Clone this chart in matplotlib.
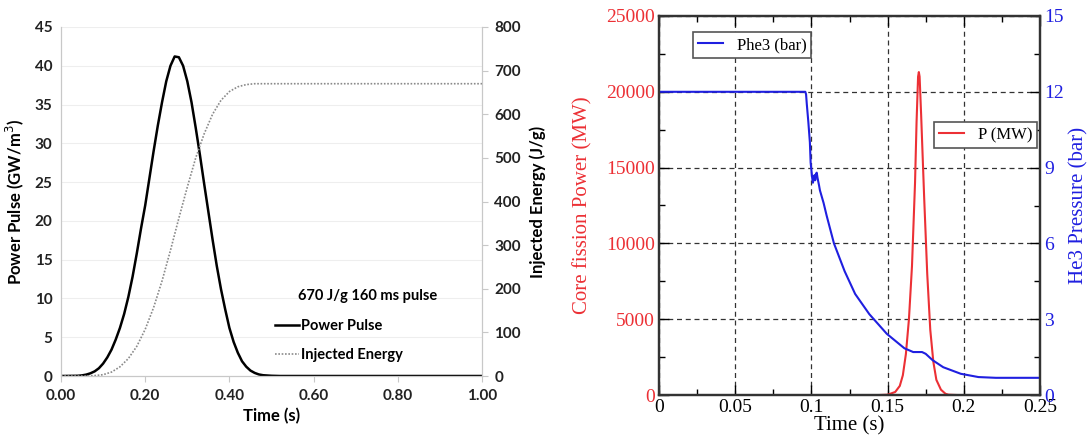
import matplotlib
matplotlib.use("Agg")
import matplotlib.pyplot as plt
from matplotlib.ticker import FormatStrFormatter, FixedLocator
from matplotlib.lines import Line2D

# ---------------- Left panel data ----------------
t_pulse = [0.00, 0.04, 0.05, 0.06, 0.07, 0.08, 0.09, 0.10, 0.11, 0.12, 0.13, 0.14, 0.15,
           0.16, 0.17, 0.18, 0.19, 0.20, 0.21, 0.22, 0.23, 0.24, 0.25, 0.26, 0.27,
           0.28, 0.29, 0.30, 0.31, 0.32, 0.33, 0.34, 0.35, 0.36, 0.37, 0.38, 0.39,
           0.40, 0.41, 0.42, 0.43, 0.44, 0.45, 0.46, 0.47, 0.48, 0.50, 0.52, 1.00]
power_pulse = [0.0, 0.03, 0.08, 0.18, 0.35, 0.6, 1.0, 1.6, 2.4, 3.4, 4.7, 6.2, 8.0,
               10.2, 12.8, 15.8, 19.0, 22.0, 25.5, 29.0, 32.3, 35.3, 38.0, 40.0, 41.2,
               41.1, 40.0, 38.0, 35.3, 32.0, 28.5, 24.8, 21.2, 17.6, 14.2, 11.2, 8.6,
               6.2, 4.4, 3.0, 1.9, 1.2, 0.7, 0.4, 0.2, 0.1, 0.03, 0.0, 0.0]

t_energy = [0.00, 0.06, 0.08, 0.10, 0.12, 0.14, 0.16, 0.18, 0.20, 0.22, 0.24, 0.26,
            0.28, 0.30, 0.32, 0.34, 0.36, 0.38, 0.40, 0.42, 0.44, 0.46, 0.50, 1.00]
injected_energy = [0, 0, 1, 3, 9, 21, 40, 68, 107, 157, 218, 288,
                   362, 433, 500, 555, 600, 632, 652, 663, 668, 670, 670, 670]

left_xticks = [0.0, 0.2, 0.4, 0.6, 0.8, 1.0]
left_yticks = list(range(0, 46, 5))
right_yticks = list(range(0, 801, 100))

# ---------------- Right panel data ----------------
t_phe3 = [0.000, 0.096, 0.0965, 0.097, 0.098, 0.099, 0.0995, 0.1005, 0.101, 0.102,
          0.1025, 0.103, 0.1035, 0.104, 0.105, 0.1056, 0.108, 0.110, 0.1148, 0.1218,
          0.1287, 0.1380, 0.1495, 0.161, 0.1668, 0.1726, 0.175, 0.1795, 0.1865,
          0.198, 0.2096, 0.221, 0.250]
phe3_bar = [12.0, 12.0, 11.9, 11.5, 10.8, 10.0, 9.2, 8.6, 8.4, 8.7,
            8.5, 8.75, 8.8, 8.6, 8.3, 8.1, 7.6, 7.1, 6.0, 4.9,
            4.0, 3.2, 2.42, 1.85, 1.70, 1.70, 1.63, 1.38, 1.10,
            0.84, 0.71, 0.68, 0.68]

t_p = [0.145, 0.150, 0.155, 0.158, 0.160, 0.162, 0.164, 0.166, 0.168, 0.169,
       0.170, 0.1705, 0.171, 0.172, 0.174, 0.176, 0.178, 0.180, 0.182, 0.185,
       0.188, 0.190, 0.195]
p_mw = [0, 20, 200, 600, 1300, 2700, 5000, 8500, 14000, 18000,
        21000, 21300, 21000, 18500, 13000, 8000, 4300, 2200, 1000, 350,
        80, 20, 0]

right_xticks = [0, 0.05, 0.1, 0.15, 0.2, 0.25]
right_xlabels = ["0", "0.05", "0.1", "0.15", "0.2", "0.25"]
p_ticks = [0, 5000, 10000, 15000, 20000, 25000]
phe3_ticks = [0, 3, 6, 9, 12, 15]

W, H = 1089, 437
fig = plt.figure(figsize=(W / 100, H / 100), dpi=100)


def box(x0, y0, x1, y1):
    return [x0 / W, 1 - y1 / H, (x1 - x0) / W, (y1 - y0) / H]


# ================= LEFT PANEL =================
bold_font = "Lato"
axL = fig.add_axes(box(61, 27, 482, 376))
axL.plot(t_pulse, power_pulse, color="black", lw=1.8, label="Power Pulse")
axL.set_xlim(0, 1)
axL.set_ylim(0, 45)
axL.set_xticks(left_xticks)
axL.set_yticks(left_yticks)
axL.xaxis.set_major_formatter(FormatStrFormatter("%.2f"))
axL.grid(axis="y", color="#eeeeee", lw=0.8)
axL.set_axisbelow(True)
axL.spines["top"].set_visible(False)
for s in ["left", "bottom", "right"]:
    axL.spines[s].set_color("#c8c8c8")
axL.tick_params(axis="y", length=0, labelsize=11, pad=6,
                labelfontfamily=bold_font, labelcolor="#222222")
axL.tick_params(axis="x", direction="out", length=4, color="#c8c8c8", labelsize=11, pad=5,
                labelfontfamily=bold_font, labelcolor="#222222")
for lab in axL.get_xticklabels() + axL.get_yticklabels():
    lab.set_fontweight("bold")
axL.set_xlabel("Time (s)", fontfamily=bold_font, fontweight="bold", fontsize=12, labelpad=4)
axL.set_ylabel("Power Pulse (GW/m$^3$)", fontfamily=bold_font, fontweight="bold", fontsize=12, labelpad=6)

axL2 = axL.twinx()
axL2.plot(t_energy, injected_energy, color="#8a8a8a", lw=1.2, ls=(0, (1, 1)), label="Injected Energy")
axL2.set_ylim(0, 800)
axL2.set_yticks(right_yticks)
axL2.spines["top"].set_visible(False)
for s in ["left", "bottom", "right"]:
    axL2.spines[s].set_color("#c8c8c8")
axL2.tick_params(axis="y", direction="out", length=4, color="#c8c8c8", labelsize=11, pad=5,
                 labelfontfamily=bold_font, labelcolor="#222222")
for lab in axL2.get_yticklabels():
    lab.set_fontweight("bold")
axL2.set_ylabel("Injected Energy (J/g)", fontfamily=bold_font, fontweight="bold", fontsize=12, labelpad=6)

axL.text(0.563, 0.229, "670 J/g 160 ms pulse", transform=axL.transAxes,
         fontfamily=bold_font, fontweight="bold", fontsize=10.5, va="center", ha="left")
handles = [Line2D([], [], color="black", lw=1.8),
           Line2D([], [], color="#8a8a8a", lw=1.2, ls=(0, (1, 1)))]
legL = axL.legend(handles, ["Power Pulse", "Injected Energy"], loc="center left",
                  bbox_to_anchor=(0.478, 0.102), frameon=False, handlelength=1.6,
                  handletextpad=0.15, labelspacing=1.05,
                  prop={"family": bold_font, "weight": "bold", "size": 10.5})

# ================= RIGHT PANEL =================
serif = "Liberation Serif"
red = "#ec3035"
blue = "#1f1fe0"
axR = fig.add_axes(box(659, 16, 1040, 395))
lp, = axR.plot(t_p, p_mw, color=red, lw=1.5, label="P (MW)")
axR.set_xlim(0, 0.25)
axR.set_ylim(0, 25000)
axR.set_xticks(right_xticks)
axR.set_xticklabels(right_xlabels)
axR.xaxis.set_minor_locator(FixedLocator([0.025, 0.075, 0.125, 0.175, 0.225]))
axR.set_yticks(p_ticks)
axR.yaxis.set_minor_locator(FixedLocator([2500, 7500, 12500, 17500, 22500]))
axR.grid(which="major", color="#333333", ls=(0, (4, 3)), lw=0.9)
for s in axR.spines.values():
    s.set_linewidth(1.6)
    s.set_color("#333333")
axR.tick_params(which="both", direction="in", top=True, right=False)
axR.tick_params(which="major", length=7, width=1.0)
axR.tick_params(which="minor", length=4, width=1.0)
axR.tick_params(axis="x", labelsize=14, pad=3, labelfontfamily=serif)
axR.tick_params(axis="y", labelsize=14, labelcolor=red, pad=3, labelfontfamily=serif)
axR.set_xlabel("Time (s)", fontfamily=serif, fontsize=15, labelpad=0)
axR.set_ylabel("Core fission Power (MW)", fontfamily=serif, fontsize=15, color=red, labelpad=10)

axR2 = axR.twinx()
lb, = axR2.plot(t_phe3, phe3_bar, color=blue, lw=1.5, label="Phe3 (bar)")
axR2.set_ylim(0, 15)
axR2.set_yticks(phe3_ticks)
axR2.yaxis.set_minor_locator(FixedLocator([1.5, 4.5, 7.5, 10.5, 13.5]))
axR2.tick_params(which="both", direction="in")
axR2.tick_params(which="major", length=7, width=1.0)
axR2.tick_params(which="minor", length=4, width=1.0)
axR2.tick_params(axis="y", labelsize=14, labelcolor=blue, pad=3, labelfontfamily=serif)
for s in axR2.spines.values():
    s.set_linewidth(1.6)
    s.set_color("#333333")
axR2.set_ylabel("He3 Pressure (bar)", fontfamily=serif, fontsize=15, color=blue, labelpad=4)

# legend boxes: Phe3 at px (693..805, 32..56); P at (933..1027, 122..144)
leg1 = axR2.legend([lb], ["Phe3 (bar)"], loc="upper left",
                   bbox_to_anchor=((693 - 659) / 379, (395 - 32) / 379),
                   fancybox=False, edgecolor="#555555", framealpha=1,
                   prop={"family": serif, "size": 12}, handlelength=1.5,
                   borderpad=0.3, borderaxespad=0)
leg1.get_frame().set_linewidth(1.2)
axR2.add_artist(leg1)
leg2 = axR2.legend([lp], ["P (MW)"], loc="upper left",
                   bbox_to_anchor=((933 - 659) / 379, (395 - 122) / 379),
                   fancybox=False, edgecolor="#555555", framealpha=1,
                   prop={"family": serif, "size": 12}, handlelength=1.5,
                   borderpad=0.3, borderaxespad=0)
leg2.get_frame().set_linewidth(1.2)

fig.savefig("out.png", dpi=100)
